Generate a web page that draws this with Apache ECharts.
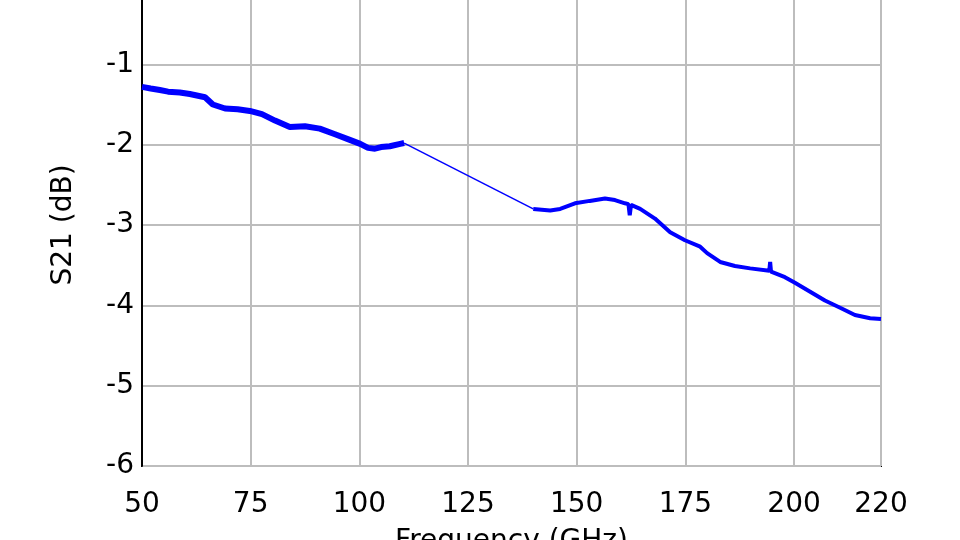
<!DOCTYPE html>
<html>
<head>
<meta charset="utf-8">
<script src="https://cdn.jsdelivr.net/npm/echarts@6/dist/echarts.min.js"></script>
<style>
html,body{margin:0;padding:0;background:#fff;}
#chart{width:960px;height:540px;}
</style>
</head>
<body>
<div id="chart"></div>
<script>
// Frequency (GHz) / S21 (dB)
var freqLow = [50, 52, 54.1, 56, 58.7, 61, 64.5, 66.3, 69.1, 72, 74.8, 77.6, 80.6, 84.0, 87.5, 90.9, 94.4, 97.8, 100.2, 102, 103.6, 105, 107, 109.4, 110.3];
var s21Low  = [-1.28, -1.30, -1.32, -1.34, -1.35, -1.37, -1.41, -1.50, -1.55, -1.56, -1.58, -1.62, -1.70, -1.78, -1.77, -1.80, -1.87, -1.94, -1.99, -2.04, -2.05, -2.03, -2.02, -1.99, -1.98];
var freqHigh = [140.0, 140.4, 143.9, 146.2, 149.6, 153.0, 156.5, 158.8, 161.1, 161.9, 162.2, 162.5, 164.6, 168.0, 171.5, 174.9, 178.4, 180, 183.0, 186.4, 189.9, 194.3, 194.5, 194.7, 197.9, 200.2, 203.7, 207.1, 210.6, 214.0, 217.5, 220];
var s21High  = [-2.80, -2.82, -2.82, -2.80, -2.73, -2.70, -2.67, -2.69, -2.73, -2.74, -2.88, -2.75, -2.80, -2.92, -3.09, -3.19, -3.27, -3.35, -3.46, -3.51, -3.54, -3.57, -3.46, -3.58, -3.65, -3.72, -3.83, -3.94, -4.03, -4.12, -4.16, -4.17];
var xTicks = [50, 75, 100, 125, 150, 175, 200, 220];
var yTicks = [0, -1, -2, -3, -4, -5, -6];

function pairs(xs, ys){ return xs.map(function(x,i){ return [x, ys[i]]; }); }
var lowData = pairs(freqLow, s21Low);
var highData = pairs(freqHigh, s21High);
var bridgeData = [lowData[lowData.length-1], highData[0]];

var FONT = 'DejaVu Sans';
var chart = echarts.init(document.getElementById('chart'), null, {renderer:'canvas'});
chart.setOption({
  animation: false,
  backgroundColor: '#ffffff',
  grid: {left: 142, right: 79, top: -16, bottom: 74, show: true, borderColor: '#000', borderWidth: 2,
         backgroundColor: 'transparent', containLabel: false, outerBoundsMode: 'none'},
  xAxis: {
    type: 'value', min: xTicks[0], max: xTicks[xTicks.length-1], interval: 25,
    name: 'Frequency (GHz)', nameLocation: 'middle', nameGap: 62,
    nameTextStyle: {fontFamily: FONT, fontSize: 28, color: '#000'},
    axisLine: {show: true, lineStyle: {color: '#000', width: 2}},
    axisTick: {show: false},
    axisLabel: {fontFamily: FONT, fontSize: 28, color: '#000', margin: 25, showMaxLabel: true, showMinLabel: true},
    splitLine: {show: true, lineStyle: {color: '#bdbdbd', width: 2}}
  },
  yAxis: {
    type: 'value', min: yTicks[yTicks.length-1], max: yTicks[0], interval: 1,
    name: 'S21 (dB)', nameLocation: 'middle', nameGap: 64, nameRotate: 90,
    nameTextStyle: {fontFamily: FONT, fontSize: 28, color: '#000'},
    axisLine: {show: true, lineStyle: {color: '#000', width: 2}},
    axisTick: {show: false},
    axisLabel: {fontFamily: FONT, fontSize: 28, color: '#000', margin: 8},
    splitLine: {show: true, lineStyle: {color: '#bdbdbd', width: 2}}
  },
  series: [
    {type: 'line', data: lowData, showSymbol: false, lineStyle: {color: '#0000ff', width: 6}, z: 3},
    {type: 'line', data: bridgeData, showSymbol: false, lineStyle: {color: '#0000ff', width: 1.5}, z: 3},
    {type: 'line', data: highData, showSymbol: false, lineStyle: {color: '#0000ff', width: 4}, z: 3}
  ]
});
</script>
</body>
</html>
